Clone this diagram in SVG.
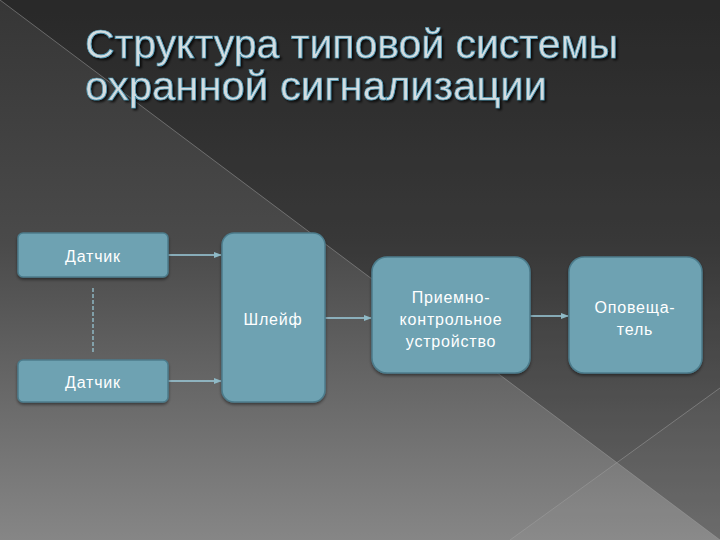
<svg xmlns="http://www.w3.org/2000/svg" width="720" height="540" viewBox="0 0 720 540">
  <defs>
    <linearGradient id="bg" x1="0" y1="0" x2="0" y2="1">
      <stop offset="0" stop-color="#363636"/>
      <stop offset="0.45" stop-color="#4a4a4a"/>
      <stop offset="1" stop-color="#868686"/>
    </linearGradient>
    <marker id="arr" viewBox="0 0 8 8" refX="7" refY="4" markerWidth="5" markerHeight="5" orient="auto">
      <path d="M0,1 L8,4 L0,7 z" fill="#8fb9c6"/>
    </marker>
    <filter id="sh" x="-10%" y="-10%" width="130%" height="130%">
      <feDropShadow dx="0" dy="2" stdDeviation="1.5" flood-color="#000" flood-opacity="0.45"/>
    </filter>
    <filter id="tsh" x="-5%" y="-20%" width="110%" height="150%">
      <feDropShadow dx="2" dy="2" stdDeviation="0.8" flood-color="#000" flood-opacity="0.75"/>
    </filter>
  </defs>
  <style>
    .box { fill: #6ea2b2; stroke: #4c7c8c; stroke-width: 1.5; filter: url(#sh); }
    .lbl { font-family: "Century Gothic", "Liberation Sans", "DejaVu Sans", sans-serif; font-size: 16px; letter-spacing: 0.8px; fill: #ffffff; text-anchor: middle; }
    .title { font-family: "Century Gothic", "Liberation Sans", sans-serif; font-size: 41px; fill: #d4dde0; stroke: #4f9ab8; stroke-width: 0.7px; filter: url(#tsh); }
    .conn { stroke: #9ccddc; stroke-width: 1.6; fill: none; marker-end: url(#arr); }
    .dash { stroke: #9ccddc; stroke-width: 1.2; stroke-dasharray: 4 2; fill: none; }
  </style>

  <!-- background -->
  <rect x="0" y="0" width="720" height="540" fill="url(#bg)"/>
  <polygon points="0,0 720,0 720,540" fill="#000" opacity="0.24"/>
  <polygon points="510,540 720,388 720,540" fill="#fff" opacity="0.04"/>
  <line x1="0" y1="0" x2="720" y2="540" stroke="#a0a0a0" stroke-width="1" opacity="0.5"/>
  <line x1="510" y1="540" x2="720" y2="388" stroke="#a0a0a0" stroke-width="1" opacity="0.5"/>

  <!-- title -->
  <g id="title">
    <text class="title" x="85" y="58" textLength="533" lengthAdjust="spacingAndGlyphs">Структура типовой системы</text>
    <text class="title" x="85" y="100" textLength="462" lengthAdjust="spacingAndGlyphs">охранной сигнализации</text>
  </g>

  <!-- connectors -->
  <g id="connectors">
    <line class="dash" x1="93" y1="288" x2="93" y2="352"/>
    <line class="conn" x1="168" y1="255" x2="221" y2="255"/>
    <line class="conn" x1="168" y1="381" x2="221" y2="381"/>
    <line class="conn" x1="325" y1="318" x2="371" y2="318"/>
    <line class="conn" x1="530" y1="316" x2="568" y2="316"/>
  </g>

  <!-- nodes -->
  <g id="sensor1">
    <rect class="box" x="18" y="233" width="150" height="44" rx="5"/>
    <text class="lbl" x="93" y="262">Датчик</text>
  </g>
  <g id="sensor2">
    <rect class="box" x="18" y="360" width="150" height="42" rx="5"/>
    <text class="lbl" x="93" y="388">Датчик</text>
  </g>
  <g id="loop">
    <rect class="box" x="222" y="233" width="103" height="169" rx="12"/>
    <text class="lbl" x="273" y="325">Шлейф</text>
  </g>
  <g id="panel">
    <rect class="box" x="372" y="257" width="158" height="116" rx="15"/>
    <text class="lbl" x="451" y="303">Приемно-</text>
    <text class="lbl" x="451" y="325">контрольное</text>
    <text class="lbl" x="451" y="347">устройство</text>
  </g>
  <g id="notifier">
    <rect class="box" x="569" y="257" width="133" height="116" rx="15"/>
    <text class="lbl" x="635" y="313">Оповеща-</text>
    <text class="lbl" x="635" y="335">тель</text>
  </g>
</svg>
